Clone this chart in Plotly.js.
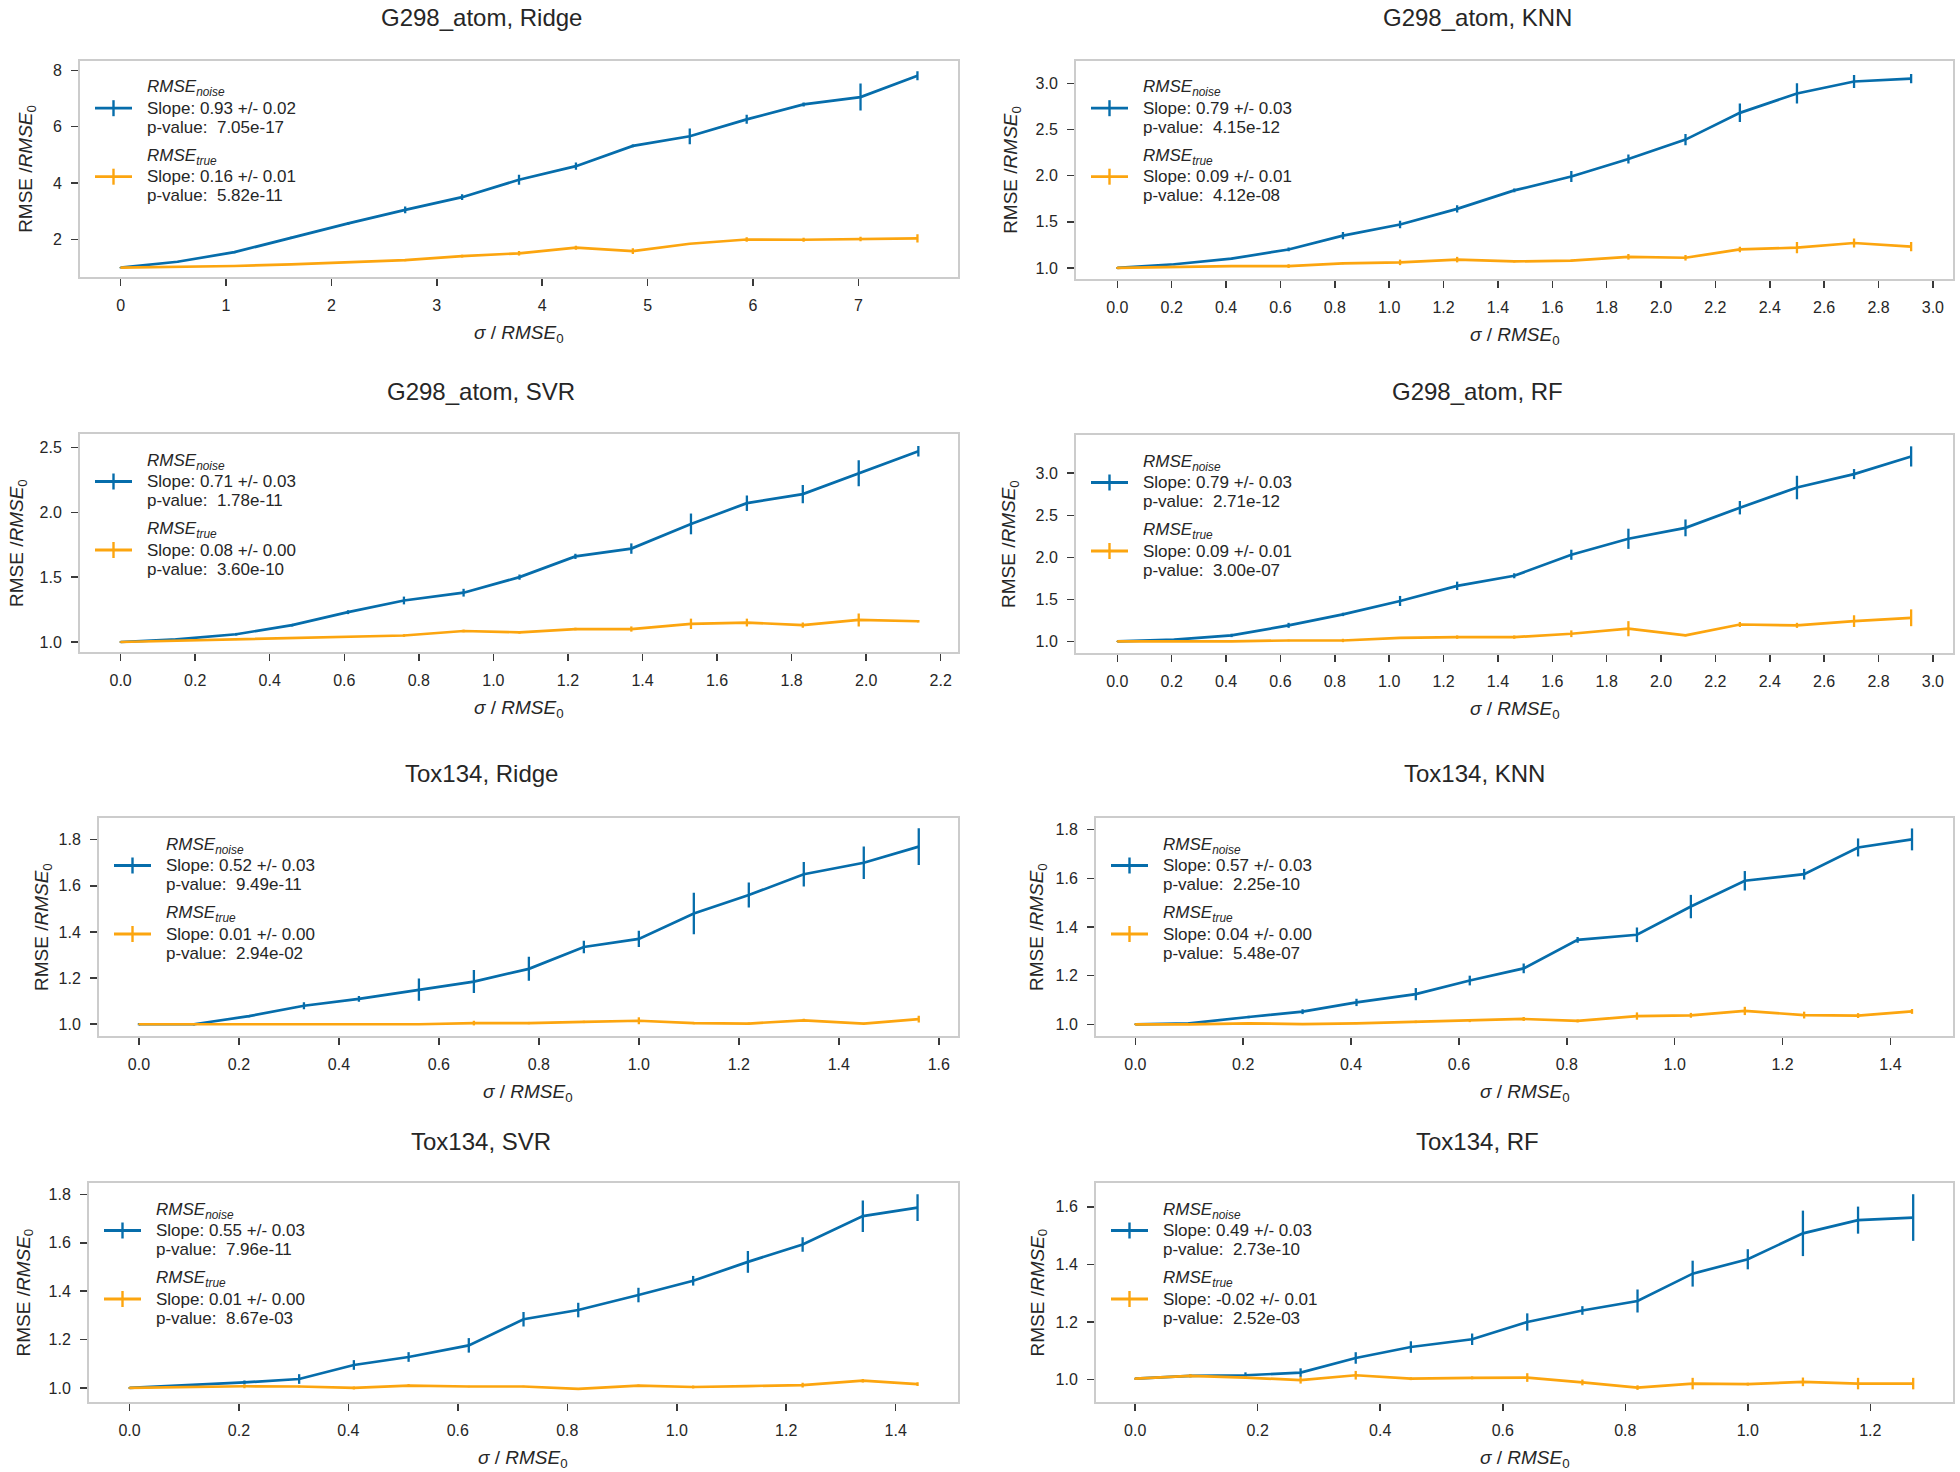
<!DOCTYPE html>
<html>
<head>
<meta charset="utf-8">
<script src="https://cdn.plot.ly/plotly-3.0.1.min.js"></script>
<style>html,body{margin:0;padding:0;background:#fff;}#chart{width:1960px;height:1472px;}</style>
</head>
<body>
<div id="chart"></div>
<script>
// ---------------- DATA ----------------
const panelTitles = ["G298_atom, Ridge", "G298_atom, KNN", "G298_atom, SVR", "G298_atom, RF",
                     "Tox134, Ridge", "Tox134, KNN", "Tox134, SVR", "Tox134, RF"];

const p1X = [0, 0.54, 1.08, 1.62, 2.16, 2.70, 3.24, 3.78, 4.32, 4.86, 5.40, 5.94, 6.48, 7.02, 7.56];
const p1Noise = [1.00, 1.21, 1.55, 2.07, 2.57, 3.05, 3.50, 4.12, 4.60, 5.32, 5.66, 6.26, 6.79, 7.05, 7.81];
const p1NoiseErr = [0.02, 0.03, 0.04, 0.03, 0.05, 0.12, 0.10, 0.18, 0.13, 0.05, 0.28, 0.16, 0.07, 0.48, 0.16];
const p1True = [1.00, 1.03, 1.06, 1.12, 1.20, 1.27, 1.41, 1.51, 1.71, 1.59, 1.85, 2.00, 1.99, 2.02, 2.04];
const p1TrueErr = [0.01, 0.01, 0.02, 0.02, 0.02, 0.04, 0.05, 0.08, 0.07, 0.10, 0.03, 0.08, 0.07, 0.08, 0.15];

const p2X = [0, 0.21, 0.42, 0.63, 0.83, 1.04, 1.25, 1.46, 1.67, 1.88, 2.09, 2.29, 2.50, 2.71, 2.92];
const p2Noise = [1.00, 1.04, 1.10, 1.20, 1.35, 1.47, 1.64, 1.84, 1.99, 2.18, 2.39, 2.68, 2.89, 3.02, 3.05];
const p2NoiseErr = [0.01, 0.01, 0.01, 0.02, 0.04, 0.04, 0.04, 0.02, 0.06, 0.05, 0.06, 0.10, 0.11, 0.07, 0.05];
const p2True = [1.00, 1.01, 1.02, 1.02, 1.05, 1.06, 1.09, 1.07, 1.08, 1.12, 1.11, 1.20, 1.22, 1.27, 1.23];
const p2TrueErr = [0.01, 0.01, 0.01, 0.02, 0.01, 0.03, 0.03, 0.01, 0.01, 0.03, 0.03, 0.03, 0.06, 0.05, 0.05];

const p3X = [0, 0.15, 0.31, 0.46, 0.61, 0.76, 0.92, 1.07, 1.22, 1.37, 1.53, 1.68, 1.83, 1.98, 2.14];
const p3Noise = [1.00, 1.02, 1.06, 1.13, 1.23, 1.32, 1.38, 1.50, 1.66, 1.72, 1.91, 2.07, 2.14, 2.30, 2.47];
const p3NoiseErr = [0.005, 0.01, 0.01, 0.01, 0.015, 0.03, 0.03, 0.02, 0.02, 0.04, 0.08, 0.06, 0.07, 0.10, 0.04];
const p3True = [1.00, 1.01, 1.02, 1.03, 1.04, 1.05, 1.085, 1.075, 1.10, 1.10, 1.14, 1.15, 1.13, 1.17, 1.16];
const p3TrueErr = [0.005, 0.005, 0.005, 0.005, 0.005, 0.01, 0.01, 0.01, 0.01, 0.02, 0.04, 0.03, 0.02, 0.05, 0.01];

const p4X = [0, 0.21, 0.42, 0.63, 0.83, 1.04, 1.25, 1.46, 1.67, 1.88, 2.09, 2.29, 2.50, 2.71, 2.92];
const p4Noise = [1.00, 1.02, 1.07, 1.19, 1.32, 1.48, 1.66, 1.78, 2.03, 2.22, 2.35, 2.59, 2.83, 2.99, 3.20];
const p4NoiseErr = [0.005, 0.01, 0.02, 0.03, 0.02, 0.06, 0.05, 0.03, 0.06, 0.12, 0.10, 0.08, 0.14, 0.06, 0.12];
const p4True = [1.00, 1.00, 1.00, 1.01, 1.01, 1.04, 1.05, 1.05, 1.09, 1.15, 1.07, 1.20, 1.19, 1.24, 1.28];
const p4TrueErr = [0.005, 0.005, 0.005, 0.01, 0.02, 0.01, 0.02, 0.02, 0.04, 0.09, 0.01, 0.03, 0.03, 0.07, 0.10];

const p5X = [0, 0.11, 0.22, 0.33, 0.44, 0.56, 0.67, 0.78, 0.89, 1.00, 1.11, 1.22, 1.33, 1.45, 1.56];
const p5Noise = [1.00, 1.00, 1.035, 1.08, 1.11, 1.15, 1.185, 1.24, 1.335, 1.37, 1.48, 1.56, 1.65, 1.70, 1.77];
const p5NoiseErr = [0.005, 0.005, 0.005, 0.015, 0.012, 0.048, 0.05, 0.052, 0.027, 0.035, 0.09, 0.054, 0.053, 0.07, 0.08];
const p5True = [1.00, 1.00, 1.00, 1.00, 1.00, 1.00, 1.005, 1.005, 1.01, 1.015, 1.005, 1.003, 1.017, 1.003, 1.022];
const p5TrueErr = [0.003, 0.003, 0.003, 0.003, 0.003, 0.003, 0.01, 0.005, 0.005, 0.015, 0.005, 0.005, 0.007, 0.003, 0.015];

const p6X = [0, 0.10, 0.21, 0.31, 0.41, 0.52, 0.62, 0.72, 0.82, 0.93, 1.03, 1.13, 1.24, 1.34, 1.44];
const p6Noise = [1.00, 1.004, 1.03, 1.052, 1.09, 1.124, 1.18, 1.23, 1.347, 1.368, 1.484, 1.59, 1.617, 1.727, 1.76];
const p6NoiseErr = [0.003, 0.005, 0.005, 0.01, 0.015, 0.025, 0.02, 0.02, 0.012, 0.03, 0.048, 0.04, 0.022, 0.037, 0.045];
const p6True = [1.00, 1.00, 1.004, 1.001, 1.004, 1.01, 1.014, 1.022, 1.014, 1.034, 1.037, 1.055, 1.038, 1.036, 1.053];
const p6TrueErr = [0.003, 0.003, 0.003, 0.003, 0.003, 0.005, 0.005, 0.008, 0.006, 0.015, 0.01, 0.017, 0.014, 0.01, 0.01];

const p7X = [0, 0.10, 0.21, 0.31, 0.41, 0.51, 0.62, 0.72, 0.82, 0.93, 1.03, 1.13, 1.23, 1.34, 1.44];
const p7Noise = [1.00, 1.01, 1.023, 1.037, 1.095, 1.128, 1.176, 1.284, 1.322, 1.384, 1.443, 1.521, 1.593, 1.71, 1.745];
const p7NoiseErr = [0.003, 0.005, 0.008, 0.02, 0.02, 0.02, 0.03, 0.03, 0.03, 0.03, 0.02, 0.045, 0.03, 0.065, 0.055];
const p7True = [1.00, 1.004, 1.007, 1.006, 1.00, 1.01, 1.006, 1.006, 0.996, 1.01, 1.004, 1.008, 1.012, 1.03, 1.016];
const p7TrueErr = [0.003, 0.003, 0.008, 0.004, 0.006, 0.006, 0.003, 0.003, 0.003, 0.004, 0.006, 0.004, 0.01, 0.007, 0.008];

const p8X = [0, 0.09, 0.18, 0.27, 0.36, 0.45, 0.55, 0.64, 0.73, 0.82, 0.91, 1.00, 1.09, 1.18, 1.27];
const p8Noise = [1.003, 1.013, 1.015, 1.024, 1.075, 1.113, 1.14, 1.20, 1.24, 1.273, 1.368, 1.418, 1.508, 1.554, 1.563];
const p8NoiseErr = [0.003, 0.005, 0.01, 0.015, 0.02, 0.02, 0.02, 0.03, 0.015, 0.04, 0.045, 0.035, 0.079, 0.047, 0.081];
const p8True = [1.003, 1.013, 1.007, 0.998, 1.015, 1.003, 1.006, 1.007, 0.99, 0.972, 0.986, 0.984, 0.992, 0.986, 0.986];
const p8TrueErr = [0.003, 0.005, 0.005, 0.012, 0.015, 0.005, 0.005, 0.015, 0.01, 0.008, 0.02, 0.005, 0.015, 0.02, 0.02];

// legend statistics
const noiseSlopes = ["0.93 +/- 0.02", "0.79 +/- 0.03", "0.71 +/- 0.03", "0.79 +/- 0.03",
                     "0.52 +/- 0.03", "0.57 +/- 0.03", "0.55 +/- 0.03", "0.49 +/- 0.03"];
const noisePvalues = ["7.05e-17", "4.15e-12", "1.78e-11", "2.71e-12", "9.49e-11", "2.25e-10", "7.96e-11", "2.73e-10"];
const trueSlopes = ["0.16 +/- 0.01", "0.09 +/- 0.01", "0.08 +/- 0.00", "0.09 +/- 0.01",
                    "0.01 +/- 0.00", "0.04 +/- 0.00", "0.01 +/- 0.00", "-0.02 +/- 0.01"];
const truePvalues = ["5.82e-11", "4.12e-08", "3.60e-10", "3.00e-07", "2.94e-02", "5.48e-07", "8.67e-03", "2.52e-03"];

const seriesNames = ["<i>RMSE<sub>noise</sub></i>", "<i>RMSE<sub>true</sub></i>"];

// ---------------- LAYOUT CONFIG ----------------
const W = 1960, H = 1472;
// axes boxes in pixels [left, right, top, bottom]
const boxes = [
  [80, 957.5, 60.7, 277], [1076, 1953, 60.7, 279],
  [80, 957.5, 434, 652],  [1076, 1953, 435, 653],
  [99, 957.5, 818, 1036], [1096, 1953, 818, 1036],
  [89, 957.5, 1183, 1402],[1096, 1953, 1183, 1402]
];
const xRanges = [[-0.385, 7.94], [-0.152, 3.074], [-0.109, 2.245], [-0.152, 3.074],
                 [-0.08, 1.6375], [-0.073, 1.516], [-0.074, 1.513], [-0.064, 1.335]];
const yRanges = [[0.67, 8.34], [0.88, 3.245], [0.923, 2.603], [0.861, 3.455],
                 [0.949, 1.894], [0.952, 1.848], [0.942, 1.847], [0.922, 1.683]];
const xDticks = [1, 0.2, 0.2, 0.2, 0.2, 0.2, 0.2, 0.2];
const yDticks = [2, 0.5, 0.5, 0.5, 0.2, 0.2, 0.2, 0.2];
const titlePos = [[481, 17], [1477, 17], [481, 392], [1477, 392], [481, 773], [1474, 773], [481, 1141], [1477, 1141]];
const yTitleX = [27, 1012, 18, 1010, 43, 1038, 24, 1038];

const BLUE = '#066dab', ORANGE = '#fca50f';
const FONT = '"Liberation Sans", Arial, Helvetica, sans-serif';
const TXT = '#262626';

const panels = [
  [p1X, p1Noise, p1NoiseErr, p1True, p1TrueErr],
  [p2X, p2Noise, p2NoiseErr, p2True, p2TrueErr],
  [p3X, p3Noise, p3NoiseErr, p3True, p3TrueErr],
  [p4X, p4Noise, p4NoiseErr, p4True, p4TrueErr],
  [p5X, p5Noise, p5NoiseErr, p5True, p5TrueErr],
  [p6X, p6Noise, p6NoiseErr, p6True, p6TrueErr],
  [p7X, p7Noise, p7NoiseErr, p7True, p7TrueErr],
  [p8X, p8Noise, p8NoiseErr, p8True, p8TrueErr]
];

const traces = [];
const layout = {
  width: W, height: H,
  margin: {l: 0, r: 0, t: 0, b: 0},
  paper_bgcolor: '#ffffff', plot_bgcolor: '#ffffff',
  showlegend: false,
  font: {family: FONT, size: 16, color: TXT},
  annotations: [], shapes: []
};

panels.forEach((p, i) => {
  const s = i === 0 ? '' : String(i + 1);
  const [xs, yn, en, yt, et] = p;
  const colors = [BLUE, ORANGE];
  [[yn, en], [yt, et]].forEach(([ys, es], k) => {
    traces.push({
      type: 'scatter', mode: 'lines', x: xs, y: ys,
      xaxis: 'x' + s, yaxis: 'y' + s,
      line: {color: colors[k], width: 2.7},
      error_y: {type: 'data', array: es, visible: true, width: 0, thickness: 2.3, color: colors[k]},
      hoverinfo: 'skip', showlegend: false
    });
  });
  const b = boxes[i];
  const fmt = i === 0 ? 'd' : '.1f';
  const common = {
    showgrid: false, zeroline: false, showline: true, mirror: true,
    linecolor: '#cccccc', linewidth: 2,
    ticks: 'outside', ticklen: 7, tickwidth: 1.5, tickcolor: '#3a3a3a',
    tickfont: {family: FONT, size: 16, color: TXT},
    ticklabelstandoff: 6, tick0: 0, tickformat: fmt
  };
  layout['xaxis' + s] = Object.assign({}, common, {
    domain: [b[0] / W, b[1] / W], range: xRanges[i], dtick: xDticks[i], anchor: 'y' + s
  });
  layout['yaxis' + s] = Object.assign({}, common, {
    domain: [1 - b[3] / H, 1 - b[2] / H], range: yRanges[i], dtick: yDticks[i], anchor: 'x' + s
  });

  const xd = 'x' + s + ' domain', yd = 'y' + s + ' domain';
  // subplot title
  layout.annotations.push({
    xref: 'paper', yref: 'paper', x: titlePos[i][0] / W, y: 1 - titlePos[i][1] / H,
    xanchor: 'center', yanchor: 'middle', showarrow: false,
    text: panelTitles[i], font: {family: FONT, size: 24, color: TXT}
  });
  // x axis title
  layout.annotations.push({
    xref: xd, yref: yd, x: 0.5, y: 0, yshift: -57, xanchor: 'center', yanchor: 'middle',
    showarrow: false, text: '<i>σ</i> / <i>RMSE</i><sub>0</sub>', font: {family: FONT, size: 19, color: TXT}
  });
  // y axis title
  layout.annotations.push({
    xref: 'paper', yref: yd, x: yTitleX[i] / W, y: 0.5, xanchor: 'center', yanchor: 'middle',
    textangle: -90, showarrow: false, text: 'RMSE /<i>RMSE</i><sub>0</sub>',
    font: {family: FONT, size: 19, color: TXT}
  });
  // in-axes legend
  const entries = [
    [seriesNames[0], 'Slope: ' + noiseSlopes[i], 'p-value:\u00a0 ' + noisePvalues[i], BLUE, -47.5],
    [seriesNames[1], 'Slope: ' + trueSlopes[i], 'p-value:\u00a0 ' + truePvalues[i], ORANGE, -116]
  ];
  entries.forEach(([hdr, slope, pv, col, mid]) => {
    [[hdr, mid + 20], [slope, mid], [pv, mid - 19]].forEach(([t, dy]) => {
      layout.annotations.push({
        xref: xd, yref: yd, x: 0, y: 1, xshift: 65, yshift: dy,
        xanchor: 'left', yanchor: 'middle', showarrow: false, text: t,
        font: {family: FONT, size: 17, color: TXT}
      });
    });
    layout.shapes.push({
      type: 'line', xref: xd, yref: yd, xsizemode: 'pixel', ysizemode: 'pixel',
      xanchor: 0, yanchor: 1, x0: 15, x1: 52, y0: mid, y1: mid,
      line: {color: col, width: 2.8}
    });
    layout.shapes.push({
      type: 'line', xref: xd, yref: yd, xsizemode: 'pixel', ysizemode: 'pixel',
      xanchor: 0, yanchor: 1, x0: 33.5, x1: 33.5, y0: mid - 8, y1: mid + 8,
      line: {color: col, width: 2.4}
    });
  });
});

Plotly.newPlot('chart', traces, layout, {staticPlot: true, displayModeBar: false});
</script>
</body>
</html>
